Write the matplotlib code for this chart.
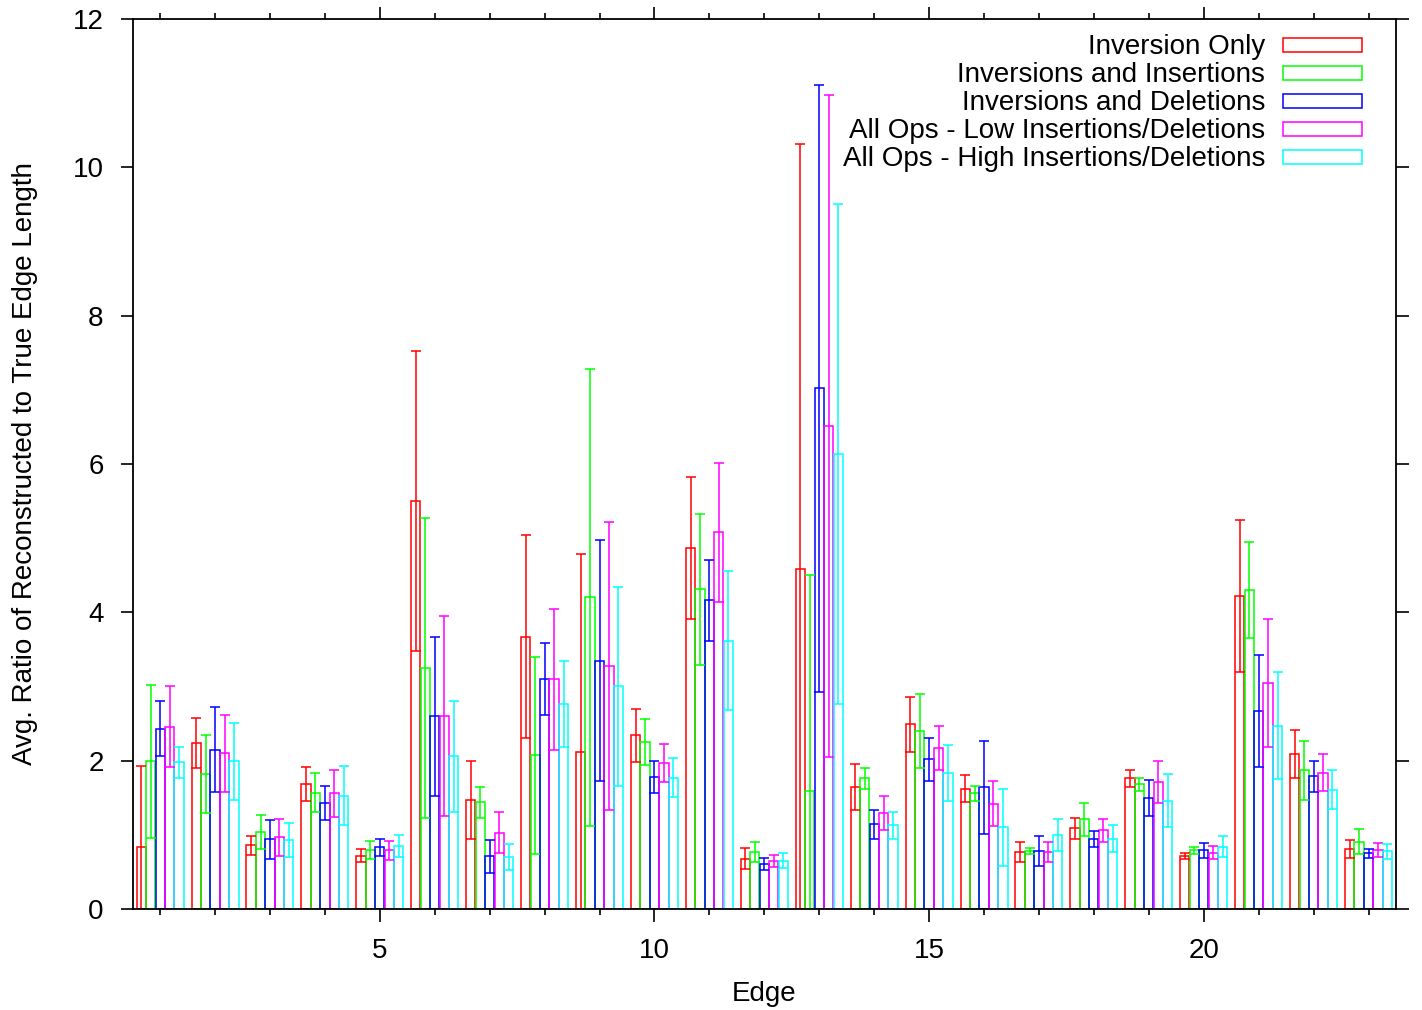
import numpy as np
import matplotlib.pyplot as plt
from matplotlib.patches import Rectangle
from matplotlib.ticker import MultipleLocator

plt.rcParams['font.family'] = ['Liberation Sans', 'DejaVu Sans']

edges = np.arange(1, 24)

series_names = [
    "Inversion Only",
    "Inversions and Insertions",
    "Inversions and Deletions",
    "All Ops - Low Insertions/Deletions",
    "All Ops - High Insertions/Deletions",
]
series_colors = ["#ff0000", "#00ff00", "#0000ff", "#ff00ff", "#00ffff"]

inv_only = [0.84, 2.24, 0.86, 1.69, 0.72, 5.50, 1.47, 3.67, 2.12, 2.34, 4.87, 0.68,
            4.58, 1.64, 2.49, 1.62, 0.77, 1.09, 1.76, 0.71, 4.22, 2.09, 0.81]
inv_only_err = [1.09, 0.34, 0.13, 0.23, 0.09, 2.02, 0.52, 1.37, 2.67, 0.36, 0.96, 0.14,
                5.73, 0.31, 0.37, 0.18, 0.13, 0.14, 0.12, 0.04, 1.02, 0.32, 0.12]

inv_ins = [1.99, 1.82, 1.04, 1.57, 0.80, 3.25, 1.44, 2.07, 4.20, 2.25, 4.31, 0.77,
           1.59, 1.76, 2.40, 1.56, 0.78, 1.21, 1.68, 0.79, 4.30, 1.87, 0.91]
inv_ins_err = [1.03, 0.52, 0.23, 0.26, 0.12, 2.02, 0.21, 1.33, 3.08, 0.31, 1.02, 0.13,
               2.91, 0.14, 0.50, 0.10, 0.045, 0.22, 0.09, 0.045, 0.65, 0.40, 0.17]

inv_del = [2.43, 2.15, 0.94, 1.43, 0.83, 2.60, 0.71, 3.10, 3.35, 1.78, 4.16, 0.61,
           7.02, 1.14, 2.02, 1.64, 0.78, 0.94, 1.50, 0.79, 2.67, 1.79, 0.75]
inv_del_err = [0.37, 0.57, 0.26, 0.23, 0.11, 1.07, 0.22, 0.49, 1.63, 0.21, 0.55, 0.08,
               4.09, 0.19, 0.29, 0.63, 0.20, 0.11, 0.24, 0.10, 0.75, 0.21, 0.065]

all_low = [2.46, 2.10, 0.97, 1.56, 0.79, 2.60, 1.03, 3.10, 3.28, 1.97, 5.08, 0.65,
           6.51, 1.29, 2.17, 1.42, 0.77, 1.06, 1.71, 0.76, 3.05, 1.84, 0.80]
all_low_err = [0.55, 0.52, 0.25, 0.32, 0.13, 1.35, 0.28, 0.95, 1.94, 0.26, 0.94, 0.08,
               4.46, 0.23, 0.30, 0.30, 0.14, 0.15, 0.28, 0.09, 0.86, 0.25, 0.095]

all_high = [1.98, 1.99, 0.93, 1.53, 0.85, 2.06, 0.70, 2.76, 3.00, 1.77, 3.62, 0.65,
            6.14, 1.13, 1.83, 1.10, 1.00, 0.95, 1.46, 0.84, 2.47, 1.61, 0.78]
all_high_err = [0.21, 0.52, 0.23, 0.40, 0.15, 0.75, 0.18, 0.58, 1.34, 0.26, 0.94, 0.10,
                3.37, 0.18, 0.38, 0.52, 0.22, 0.18, 0.36, 0.14, 0.72, 0.26, 0.10]

means = [inv_only, inv_ins, inv_del, all_low, all_high]
errs = [inv_only_err, inv_ins_err, inv_del_err, all_low_err, all_high_err]

fig = plt.figure(figsize=(14.22, 10.10), dpi=100)
ax = fig.add_axes([0.0933, 0.1, 0.8884, 0.8812])

step = 0.172
width = 0.168
for k, (m, e, c) in enumerate(zip(means, errs, series_colors)):
    xs = edges + (k - 2) * step
    ax.bar(xs, m, width=width, fill=False, edgecolor=c, linewidth=1.1)
    ax.errorbar(xs, m, yerr=e, fmt="none", ecolor=c, elinewidth=1.1,
                capsize=3.8, capthick=1.1)

ax.set_xlim(0.5, 23.5)
ax.set_ylim(0, 12)
ax.xaxis.set_major_locator(MultipleLocator(5))
ax.xaxis.set_minor_locator(MultipleLocator(1))
ax.yaxis.set_major_locator(MultipleLocator(2))

fs = 20
ax.tick_params(which="both", direction="out", top=True, right=True, width=1.2)
ax.tick_params(which="major", length=9, labelsize=fs)
ax.tick_params(which="minor", length=4.5)
ax.tick_params(axis="x", which="major", pad=12)
ax.tick_params(axis="y", which="major", pad=12)
for sp in ax.spines.values():
    sp.set_linewidth(1.3)

ax.set_xlabel("Edge", fontsize=fs, labelpad=12)
ax.set_ylabel("Avg. Ratio of Reconstructed to True Edge Length", fontsize=fs,
              labelpad=25)

# gnuplot-style key: right-aligned text with outlined sample boxes
row_y = [0.9704, 0.9390, 0.9074, 0.8758, 0.8444]
for name, c, yy in zip(series_names, series_colors, row_y):
    ax.text(0.8966, yy - 0.002, name, transform=ax.transAxes, ha="right",
            va="center", fontsize=fs)
    ax.add_patch(Rectangle((0.9106, yy - 0.0078), 0.0625, 0.0157,
                           transform=ax.transAxes, fill=False, edgecolor=c,
                           linewidth=1.1))

fig.savefig("out.png", dpi=100)
